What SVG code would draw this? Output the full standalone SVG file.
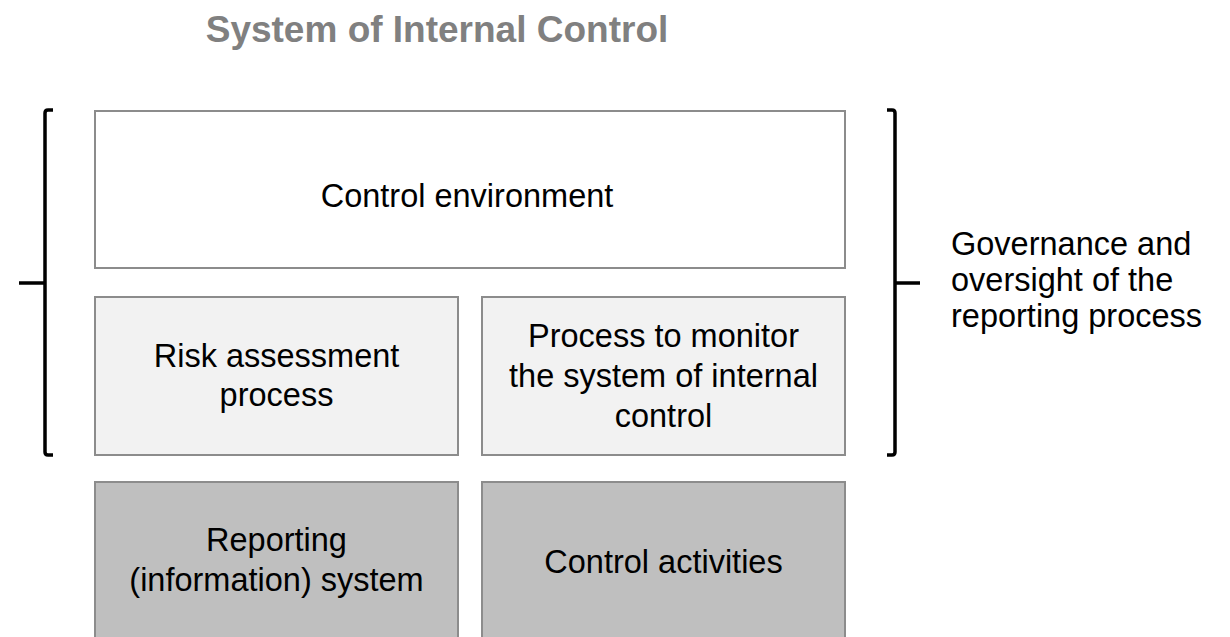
<svg xmlns="http://www.w3.org/2000/svg" width="1230" height="637" viewBox="0 0 1230 637">
<style>
.box{stroke:#8c8c8c;stroke-width:2}
.t{font-family:"Liberation Sans",Arial,sans-serif;font-size:32.5px;fill:#000}
.c{text-anchor:middle}
.br{fill:none;stroke:#000;stroke-width:3.5;stroke-linejoin:round;stroke-linecap:butt}
</style>
<rect width="1230" height="637" fill="#fff"/>
<text x="437" y="42" text-anchor="middle" style="font-family:'Liberation Sans',Arial,sans-serif;font-size:37px;font-weight:bold;fill:#808080">System of Internal Control</text>
<g id="control-environment">
<rect class="box" x="95" y="111" width="750" height="157" fill="#ffffff"/>
<text class="t c" x="467" y="207">Control environment</text>
</g>
<g id="risk-assessment">
<rect class="box" x="95" y="297" width="363" height="158" fill="#f2f2f2"/>
<text class="t c" x="276.5" y="367">Risk assessment</text>
<text class="t c" x="276.5" y="406">process</text>
</g>
<g id="monitor">
<rect class="box" x="482" y="297" width="363" height="158" fill="#f2f2f2"/>
<text class="t c" x="663.5" y="347">Process to monitor</text>
<text class="t c" x="663.5" y="387">the system of internal</text>
<text class="t c" x="663.5" y="427">control</text>
</g>
<g id="reporting-system">
<rect class="box" x="95" y="482" width="363" height="200" fill="#bfbfbf"/>
<text class="t c" x="276.5" y="551">Reporting</text>
<text class="t c" x="276.5" y="591">(information) system</text>
</g>
<g id="control-activities">
<rect class="box" x="482" y="482" width="363" height="200" fill="#bfbfbf"/>
<text class="t c" x="663.5" y="573">Control activities</text>
</g>
<g id="connectors">
<path class="br" d="M53,110 H48 Q45,110 45,113 V452 Q45,455 48,455 H53 M45,283 H19"/>
<path class="br" d="M887,110 H892 Q895,110 895,113 V452 Q895,455 892,455 H887 M895,283 H920"/>
</g>
<g id="governance">
<text class="t" x="951" y="255">Governance and</text>
<text class="t" x="951" y="291">oversight of the</text>
<text class="t" x="951" y="327">reporting process</text>
</g>
</svg>
